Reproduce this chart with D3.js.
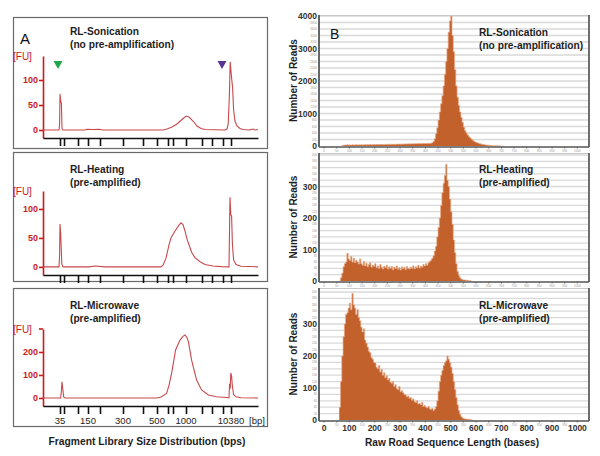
<!DOCTYPE html>
<html><head><meta charset="utf-8">
<script src="https://cdn.jsdelivr.net/npm/d3@7"></script>
<style>body{margin:0;background:#fff}svg{display:block}text{font-family:"Liberation Sans",Arial,sans-serif}</style>
</head><body><svg id="c" width="600" height="456"></svg>
<script>
// ================= Panel A data (Bioanalyzer traces) =================
const ladderSizes  = [35, 50, 100, 150, 200, 300, 400, 500, 600, 700, 1000, 2000, 3000, 7000, 10380];
const ladderTimes  = [25.5, 27.5, 34.5, 39.5, 45.5, 57, 67, 74, 79.5, 82, 88.5, 96.5, 101.5, 107, 111];
const ladderLabels = [35, 150, 300, 500, 1000, 10380];
const markerTimes  = [24.5, 106.5];   // lower / upper marker arrows
// [migration time (s), FU]
const sonicationTrace = [[17,0],[25,0],[25.3,12],[25.5,72],[25.9,57],[26.2,54],[26.5,3],[27,0],[38,0],[39,1.5],[42,1],[45,1.5],[47,0],[77,0],[79,2],[81.5,6],[84,12],[86.5,21],[88.5,28],[90,26],[92,18],[94,8],[96,3],[98,1],[108,0],[109,2],[109.6,12],[110.2,70],[110.6,136],[111,118],[111.4,100],[111.8,85],[112.3,40],[113,18],[114,8],[115.5,3],[117,1],[120,0],[122,2],[123,0],[124.5,1]];
const heatingTrace = [[17,0],[25,0],[25.3,20],[25.5,74],[25.8,60],[26,43],[26.4,5],[27,0],[40,0],[43,1.5],[48,0],[76,0],[77,3],[78.5,15],[80,38],[81,50],[83,62],[85,72],[86,76],[87,73],[88,62],[89,48],[90.5,33],[91.5,24],[93,16],[95.5,9],[98,4],[102,1.5],[106,0.5],[110,0],[110.2,48],[110.5,120],[110.9,90],[111.3,88],[111.7,40],[112.3,12],[113.5,4],[116,1],[124.5,0]];
const microwaveTrace = [[17,0],[25.8,0],[26.2,30],[26.5,70],[26.9,40],[27.3,5],[28,0],[74,0],[76,4],[78.8,20],[80,55],[81.3,107],[83.3,209],[85.5,252],[87,268],[88,274],[89,262],[89.7,245],[91.3,165],[93.8,78],[96.3,35],[99.7,13],[103.8,5],[108.8,2],[110,0],[110.3,62],[110.6,40],[110.9,108],[111.3,95],[111.7,50],[112.3,15],[113.5,5],[116,1],[124.5,0]];

// ================= Panel B data (read length histograms, 5-base bins) =================
const binWidth = 5;
const sonicationFirstBin = 70;
const sonicationReads = [15,25,30,28,35,30,32,28,35,30,33,38,30,36,34,40,33,38,42,36,40,38,44,39,42,47,40,45,43,48,44,50,46,42,52,47,50,55,48,53,51,56,50,58,54,60,55,62,57,60,64,58,66,62,68,63,70,66,72,68,74,70,76,72,78,74,80,76,82,80,
  85,100,140,220,380,560,800,1050,1300,1550,1850,2200,2600,3000,3500,3850,4000,3400,2900,2350,1850,1500,1250,1050,880,720,580,470,400,340,290,250,210,175,150,125,105,90,78,66,56,48,40,34,28,24,20,16,13,10,8,6,5,4,3,2,2];
const heatingFirstBin = 60;
const heatingReads = [0,10,25,45,55,60,88,70,65,78,60,72,58,66,60,54,70,55,50,62,48,56,45,52,58,44,50,47,55,42,48,40,52,44,38,47,42,50,38,45,40,46,36,44,40,48,37,42,35,45,39,43,36,46,40,38,44,40,48,39,45,42,50,41,47,44,52,48,55,50,58,62,66,72,80,95,110,140,170,200,240,280,310,335,370,320,300,260,220,180,130,90,55,30,18,10,6,4,3,3,2,2,1,1];
const microwaveFirstBin = 60;
const microwaveReads = [40,120,200,260,300,330,335,350,365,345,395,360,350,330,345,320,310,290,275,285,250,240,228,215,210,195,190,180,178,165,160,170,150,158,140,148,132,138,125,130,118,115,120,105,110,98,95,105,88,92,85,80,78,72,75,68,70,62,66,58,55,60,50,52,48,55,42,45,40,38,42,35,33,36,30,34,42,60,90,120,140,155,170,180,185,200,190,180,165,145,120,95,70,48,30,18,10,6,4,3,3,2,2,1,1];
const lengthTicks = [0,100,200,300,400,500,600,700,800,900,1000];

const svg = d3.select('#c');
const red = '#cc1a1a';
const font = '"Liberation Sans",Arial,sans-serif';

// ---------------- Panel A ----------------
const ax = d3.scaleLinear().domain([17, 124.5]).range([43, 258]);
const aBoxes = [
  {top:17, bottom:148, yDom:[-16,148], yRange:[138,56], ticks:[0,50,100], fuTick:false, trace:sonicationTrace, t1:'RL-Sonication', t2:'(no pre-amplification)', tY:35, labels:false, markers:true},
  {top:152, bottom:281, yDom:[-14,131], yRange:[275,191], ticks:[0,50,100], fuTick:false, trace:heatingTrace, t1:'RL-Heating', t2:'(pre-amplified)', tY:173, labels:false, markers:false},
  {top:288, bottom:426, yDom:[-35,300], yRange:[406,329], ticks:[0,100,200], fuTick:true, trace:microwaveTrace, t1:'RL-Microwave', t2:'(pre-amplified)', tY:309, labels:true, markers:false}
];
aBoxes.forEach(b => {
  const g = svg.append('g');
  g.append('rect').attr('x',13.5).attr('y',b.top+0.5).attr('width',254).attr('height',b.bottom-b.top)
    .attr('fill','none').attr('stroke','#6a6a6a').attr('stroke-width',1.2);
  const y = d3.scaleLinear().domain(b.yDom).range(b.yRange);
  const ya = g.append('g').attr('transform','translate(43,0)')
    .call(d3.axisLeft(y).tickValues(b.ticks).tickSize(4).tickSizeOuter(0).tickPadding(1));
  ya.select('.domain').attr('stroke',red).attr('stroke-width',1.6);
  ya.selectAll('.tick line').attr('stroke',red).attr('stroke-width',1.6);
  ya.selectAll('.tick text').attr('fill',red).attr('font-size',9).attr('font-weight','bold').attr('font-family',font);
  if (b.fuTick) {
    g.append('line').attr('x1',39).attr('x2',43).attr('y1',y(300)).attr('y2',y(300)).attr('stroke',red).attr('stroke-width',1.6);
  }
  g.append('text').attr('x',13).attr('y',b.yRange[1]+4).text('[FU]').attr('fill',red).attr('font-size',10).attr('font-family',font);
  const xa = g.append('g').attr('transform',`translate(0,${b.yRange[0]})`)
    .call(d3.axisBottom(ax).tickValues(ladderTimes).tickSize(8).tickSizeOuter(0).tickFormat(''));
  xa.select('.domain').attr('stroke','#111').attr('stroke-width',1.4);
  xa.selectAll('.tick line').attr('stroke','#111').attr('stroke-width',1.6);
  if (b.labels) {
    ladderLabels.forEach(s => {
      const t = ladderTimes[ladderSizes.indexOf(s)];
      g.append('text').attr('x',ax(t)).attr('y',b.yRange[0]+18).attr('text-anchor','middle')
        .attr('font-size',9.5).attr('fill','#222').attr('font-family',font).text(s);
    });
    g.append('text').attr('x',ax(124.5)-1).attr('y',b.yRange[0]+18).attr('text-anchor','middle')
      .attr('font-size',9.5).attr('fill','#222').attr('font-family',font).text('[bp]');
  }
  const line = d3.line().x(d=>ax(d[0])).y(d=>y(d[1]));
  g.append('path').attr('d',line(b.trace)).attr('fill','none').attr('stroke','#c8484c').attr('stroke-width',1.1);
  if (b.markers) {
    const cols = ['#1fa64a','#5a3596'];
    markerTimes.forEach((t,i) => {
      const cx = ax(t), cy = y(130);
      g.append('path').attr('d',`M${cx-4.5},${cy-4}L${cx+4.5},${cy-4}L${cx},${cy+4}Z`).attr('fill',cols[i]);
    });
  }
  g.append('text').attr('x',70).attr('y',b.tY).attr('font-size',10.2).attr('font-weight','bold').attr('fill','#1e1e1e').text(b.t1);
  g.append('text').attr('x',70).attr('y',b.tY+13).attr('font-size',10.2).attr('font-weight','bold').attr('fill','#1e1e1e').text(b.t2);
});
svg.append('text').attr('x',20).attr('y',44).attr('font-size',15).attr('fill','#111').text('A');
svg.append('text').attr('x',147).attr('y',445).attr('text-anchor','middle').attr('font-size',10.5).attr('font-weight','bold')
  .attr('fill','#1e1e1e').attr('textLength',197).attr('lengthAdjust','spacingAndGlyphs').text('Fragment Library Size Distribution (bps)');

// ---------------- Panel B ----------------
const bx = d3.scaleLinear().domain([-20, 1030]).range([319, 585]);
const bPanels = [
  {top:15, yDom:[0,4000], yRange:[146,16], minor:200, majors:[0,1000,2000,3000,4000], first:sonicationFirstBin, reads:sonicationReads, t1:'RL-Sonication', t2:'(no pre-amplification)', tY:36, xLabels:false},
  {top:153, yDom:[0,400], yRange:[281,155], minor:20, majors:[0,100,200,300], first:heatingFirstBin, reads:heatingReads, t1:'RL-Heating', t2:'(pre-amplified)', tY:173, xLabels:false},
  {top:288, yDom:[0,400], yRange:[420,292], minor:20, majors:[0,100,200,300], first:microwaveFirstBin, reads:microwaveReads, t1:'RL-Microwave', t2:'(pre-amplified)', tY:309, xLabels:true}
];
bPanels.forEach(p => {
  const g = svg.append('g');
  const y = d3.scaleLinear().domain(p.yDom).range(p.yRange);
  const bottom = p.yRange[0]+1;
  const gridVals = d3.range(p.yDom[0]+p.minor, p.yDom[1]+p.minor/2, p.minor);
  g.selectAll('.grid').data(gridVals).join('line')
    .attr('x1',320).attr('x2',588).attr('y1',d=>y(d)).attr('y2',d=>y(d))
    .attr('stroke','#d9d9d9').attr('stroke-width',1.3);
  g.append('line').attr('x1',319).attr('x2',589).attr('y1',p.top+0.5).attr('y2',p.top+0.5).attr('stroke','#c8c8c8').attr('stroke-width',1);
  g.append('line').attr('x1',589).attr('x2',589).attr('y1',p.top).attr('y2',bottom).attr('stroke','#6e6e6e').attr('stroke-width',2);
  const data = p.reads.map((v,i)=>({b:p.first+i*binWidth, v}));
  const ext = data.concat([{b:p.first+p.reads.length*binWidth, v:0}]);
  const area = d3.area().x(d=>bx(d.b)).y0(y(0)).y1(d=>y(d.v)).curve(d3.curveStepAfter);
  g.append('path').attr('d',area(ext)).attr('fill','#c2612c');
  const ln = d3.line().x(d=>bx(d.b)).y(d=>y(d.v)).curve(d3.curveStepAfter);
  g.append('path').attr('d',ln(ext)).attr('fill','none').attr('stroke','#e8a783').attr('stroke-width',0.7);
  g.append('line').attr('x1',319).attr('x2',589).attr('y1',bottom).attr('y2',bottom).attr('stroke','#555').attr('stroke-width',1.5);
  g.append('line').attr('x1',319).attr('x2',319).attr('y1',p.top).attr('y2',bottom).attr('stroke','#666').attr('stroke-width',2);
  p.majors.forEach(v => {
    g.append('text').attr('x',317).attr('y',y(v)+3).attr('text-anchor','end').attr('font-size',8.5).attr('font-weight','bold').attr('fill','#333').text(v);
  });
  gridVals.filter(v=>!p.majors.includes(v)).forEach(v => {
    g.append('text').attr('x',317).attr('y',y(v)+1).attr('text-anchor','end').attr('font-size',3).attr('fill','#999').text(v);
  });
  const minorX = d3.range(0, 1001, 50);
  minorX.forEach(v => {
    g.append('line').attr('x1',bx(v)).attr('x2',bx(v)).attr('y1',bottom).attr('y2',bottom+1.5).attr('stroke','#555').attr('stroke-width',0.8);
    if (!(p.xLabels && lengthTicks.includes(v)))
      g.append('text').attr('x',bx(v)).attr('y',bottom+5).attr('text-anchor','middle').attr('font-size',3).attr('fill','#999').text(v);
  });
  if (p.xLabels) {
    lengthTicks.forEach(v => {
      g.append('text').attr('x',bx(v)).attr('y',bottom+10).attr('text-anchor','middle').attr('font-size',8.5).attr('font-weight','bold').attr('fill','#333').text(v);
    });
  }
  const cy = (p.yRange[0]+p.top)/2;
  g.append('text').attr('transform',`translate(297,${cy}) rotate(-90)`).attr('text-anchor','middle')
    .attr('font-size',10).attr('font-weight','bold').attr('fill','#1e1e1e').text('Number of Reads');
  g.append('text').attr('x',479).attr('y',p.tY).attr('font-size',10.2).attr('font-weight','bold').attr('fill','#1e1e1e').text(p.t1);
  g.append('text').attr('x',479).attr('y',p.tY+13).attr('font-size',10.2).attr('font-weight','bold').attr('fill','#1e1e1e').text(p.t2);
});
svg.append('text').attr('x',330).attr('y',39).attr('font-size',14).attr('fill','#111').text('B');
svg.append('text').attr('x',452).attr('y',446).attr('text-anchor','middle').attr('font-size',10.5).attr('font-weight','bold')
  .attr('fill','#1e1e1e').attr('textLength',174).attr('lengthAdjust','spacingAndGlyphs').text('Raw Road Sequence Length (bases)');
</script></body></html>
